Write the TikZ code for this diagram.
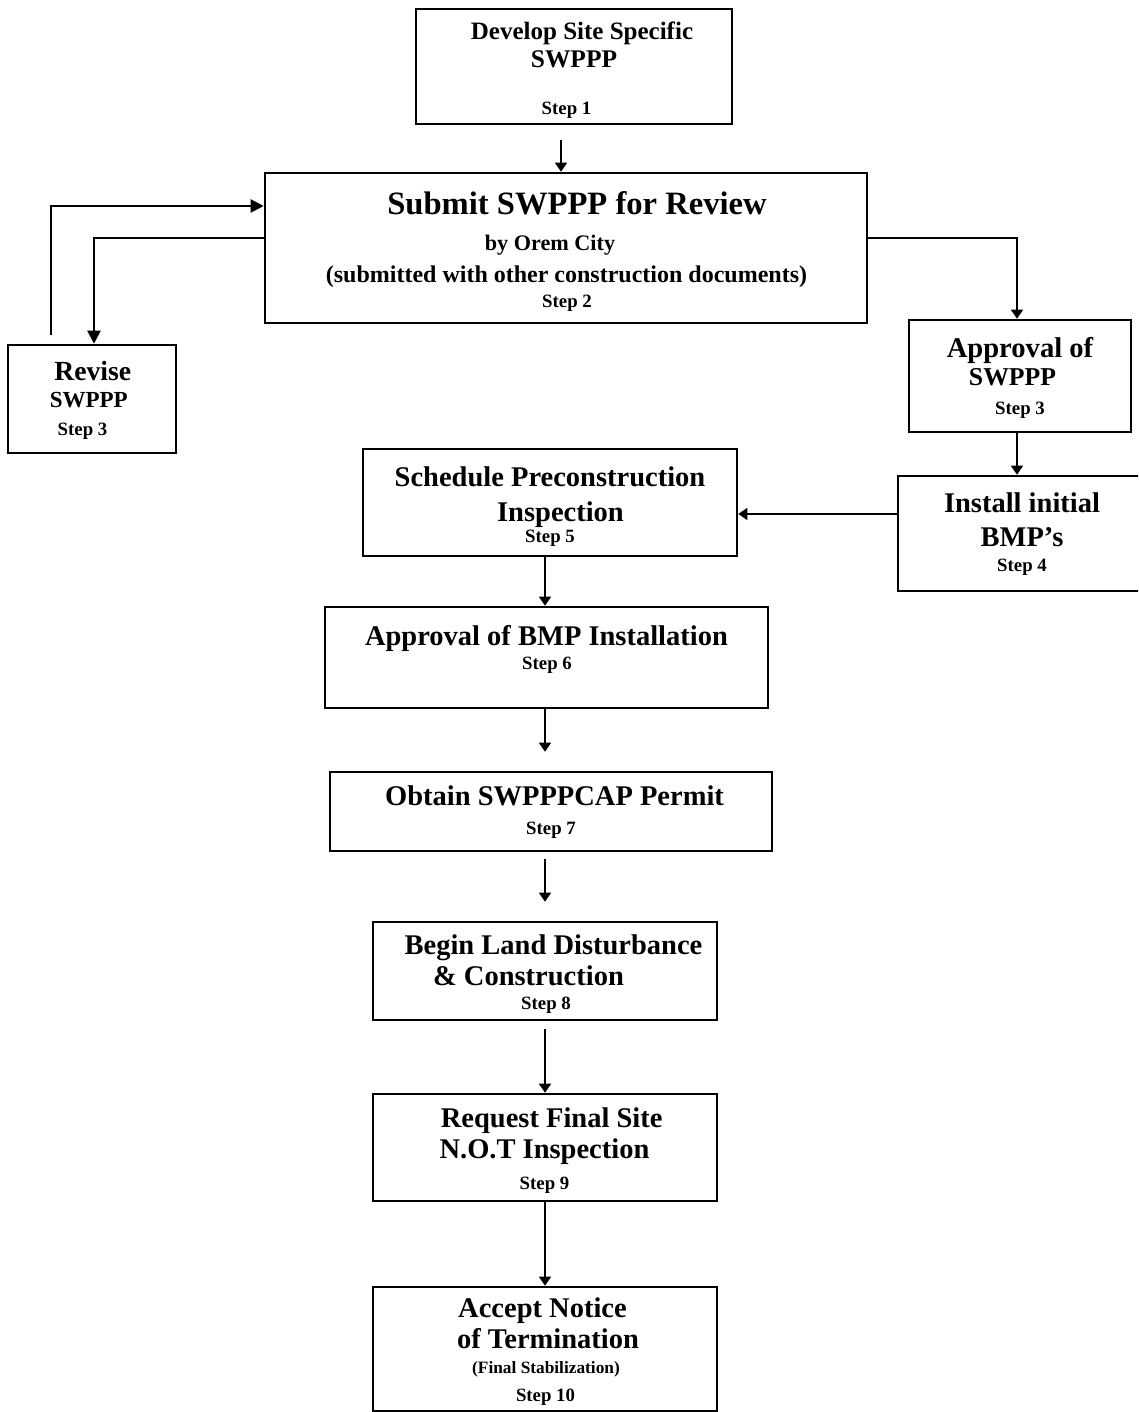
\documentclass[tikz,border=0pt]{standalone}
\usepackage{fontspec}
\setmainfont{Liberation Serif}
\usetikzlibrary{arrows.meta}

\begin{document}
\begin{tikzpicture}[x=1pt,y=-1pt,
		box/.style={draw=black, line width=2.6pt, inner sep=0pt},
		conn/.style={draw=black, line width=1.5pt, -{Triangle[length=9pt,width=12pt]}},
		backline/.style={draw=black, line width=2.2pt, -{Triangle[length=13pt,width=13pt]}},
		txt/.style={anchor=base, inner sep=0pt, font=\bfseries\fontsize{#1}{#1}\selectfont}]
		\clip (0,0) rectangle (1138,1412);
		\fill [white] (0,0) rectangle (1138,1412);
		\node [box, minimum width=316pt, minimum height=115pt] (develop) at (574,66.5) {};
		\node [txt=25] (develop1) at (582,39.5) {Develop Site Specific};
		\node [txt=25.4] (develop2) at (574,68) {SWPPP};
		\node [txt=18.8] (develop3) at (566.5,115) {Step 1};
		\node [box, minimum width=602pt, minimum height=150pt] (submit) at (566,248) {};
		\node [txt=32.6] (submit1) at (577,215) {Submit SWPPP for Review};
		\node [txt=22.2] (submit2) at (550,250.7) {by Orem City};
		\node [txt=24] (submit3) at (566.5,283) {(submitted with other construction documents)};
		\node [txt=18.8] (submit4) at (567,308) {Step 2};
		\node [box, minimum width=168pt, minimum height=108pt] (revise) at (92,399) {};
		\node [txt=27.7] (revise1) at (92.8,380) {Revise};
		\node [txt=23] (revise2) at (88.8,407) {SWPPP};
		\node [txt=18.8] (revise3) at (82.5,435) {Step 3};
		\node [box, minimum width=222pt, minimum height=112pt] (apprswppp) at (1020,376) {};
		\node [txt=28.6] (apprswppp1) at (1020,357) {Approval of};
		\node [txt=25.7] (apprswppp2) at (1012.5,385) {SWPPP};
		\node [txt=18.8] (apprswppp3) at (1020,414) {Step 3};
		\node [box, minimum width=252pt, minimum height=115pt] (install) at (1024,533.5) {};
		\node [txt=28.5] (install1) at (1022,512.7) {Install initial};
		\node [txt=28.5] (install2) at (1022,546) {BMP’s};
		\node [txt=18.8] (install3) at (1022,571.7) {Step 4};
		\node [box, minimum width=374pt, minimum height=107pt] (schedule) at (550,502.5) {};
		\node [txt=28.5] (schedule1) at (550,486.7) {Schedule Preconstruction};
		\node [txt=28.5] (schedule2) at (560.5,521) {Inspection};
		\node [txt=18.8] (schedule3) at (550,542.7) {Step 5};
		\node [box, minimum width=443pt, minimum height=101pt] (apprbmp) at (546.5,657.5) {};
		\node [txt=28.5] (apprbmp1) at (546.5,645) {Approval of BMP Installation};
		\node [txt=18.8] (apprbmp2) at (547,669) {Step 6};
		\node [box, minimum width=442pt, minimum height=79pt] (permit) at (551,811.5) {};
		\node [txt=28.5] (permit1) at (554.5,805) {Obtain SWPPPCAP Permit};
		\node [txt=18.8] (permit2) at (551,834) {Step 7};
		\node [box, minimum width=344pt, minimum height=98pt] (begin) at (545,971) {};
		\node [txt=28.5] (begin1) at (553.5,954.6) {Begin Land Disturbance};
		\node [txt=28.5] (begin2) at (528.5,985) {\& Construction};
		\node [txt=18.8] (begin3) at (546,1009) {Step 8};
		\node [box, minimum width=344pt, minimum height=107pt] (request) at (545,1147.5) {};
		\node [txt=28.5] (request1) at (551.7,1127.7) {Request Final Site};
		\node [txt=28.5] (request2) at (544.5,1158) {N.O.T Inspection};
		\node [txt=18.8] (request3) at (544.5,1189.5) {Step 9};
		\node [box, minimum width=344pt, minimum height=124pt] (accept) at (545,1349) {};
		\node [txt=28.5] (accept1) at (542.5,1317.7) {Accept Notice};
		\node [txt=28.5] (accept2) at (548,1348) {of Termination};
		\node [txt=17.3] (accept3) at (546,1373.7) {(Final Stabilization)};
		\node [txt=18.8] (accept4) at (545.5,1401) {Step 10};
		\coordinate (spine) at (545,0);
		\coordinate (d1) at (561,140);
		\coordinate (r1) at (51,335);
		\draw [conn] (d1) -- (d1 |- submit.north);
		\draw [backline] (r1) |- ([yshift=42pt]submit.west);
		\draw [backline] ([yshift=10pt]submit.west) -| ([xshift=2pt]revise.north);
		\draw [conn] ([yshift=10pt]submit.east) -| ([xshift=-3pt]apprswppp.north);
		\draw [conn] ([xshift=-3pt]apprswppp.south) -- ([xshift=-3pt]apprswppp.south |- install.north);
		\draw [conn] ([yshift=19.5pt]install.west) -- ([yshift=19.5pt]install.west -| schedule.east);
		\draw [conn] (schedule.south -| spine) -- (apprbmp.north -| spine);
		\draw [conn, shorten >=19pt] (apprbmp.south -| spine) -- (permit.north -| spine);
		\draw [conn, shorten <=7pt, shorten >=19pt] (permit.south -| spine) -- (begin.north -| spine);
		\draw [conn, shorten <=8pt] (begin.south -| spine) -- (request.north -| spine);
		\draw [conn] (request.south -| spine) -- (accept.north -| spine);
\end{tikzpicture}
\end{document}
